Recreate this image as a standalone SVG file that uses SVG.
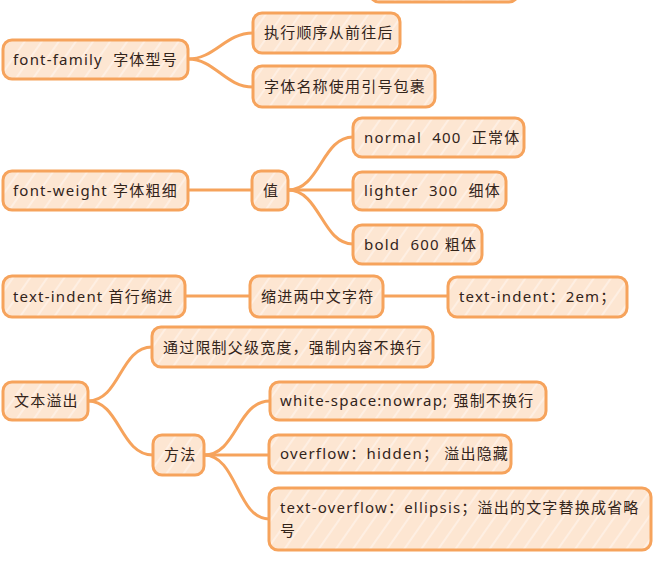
<svg xmlns="http://www.w3.org/2000/svg" width="662" height="563" viewBox="0 0 662 563" xml:space="preserve">
<defs>
<pattern id="hatch" patternUnits="userSpaceOnUse" width="14" height="14" patternTransform="rotate(35)">
<rect width="14" height="14" fill="#FDE6D2"/>
<line x1="2" y1="0" x2="2" y2="14" stroke="#FFFFFF" stroke-width="1" stroke-opacity="0.75"/>
</pattern>
<style>
.node rect{fill:url(#hatch);stroke:#F6A35C;stroke-width:3}
.node text{font-family:"Noto Sans","Noto Sans CJK SC",sans-serif;font-size:15px;fill:#33241A;letter-spacing:1.2px;white-space:pre}
#connectors path{fill:none;stroke:#F6A35C;stroke-width:3;stroke-linecap:round}
</style>
</defs>
<rect width="662" height="563" fill="#FFFFFF"/>
<g id="connectors">
<path d="M188,59 C215,59 225,33 253,33"/>
<path d="M188,59 C215,59 225,87 253,87"/>
<path d="M188,190 L252,190"/>
<path d="M288,190 C320,190 322,137 353,137"/>
<path d="M288,190 L353,190"/>
<path d="M288,190 C320,190 322,244 353,244"/>
<path d="M185,296 L250,296"/>
<path d="M383,296 L448,296"/>
<path d="M88,401 C120,401 120,347 152,347"/>
<path d="M88,401 C120,401 120,455 153,455"/>
<path d="M204,455 C237,455 237,401 270,401"/>
<path d="M204,455 L269,455"/>
<path d="M204,455 C237,455 237,519 269,519"/>
</g>
<g id="n0" class="node"><rect x="370" y="-38" width="148" height="40" rx="9"/></g>
<g id="n1" class="node"><rect x="3" y="40" width="185" height="39" rx="9"/><text x="13" y="65">font-family  字体型号</text></g>
<g id="n2" class="node"><rect x="253" y="13" width="147" height="40" rx="9"/><text x="264" y="38">执行顺序从前往后</text></g>
<g id="n3" class="node"><rect x="253" y="66" width="182" height="41" rx="9"/><text x="264" y="92">字体名称使用引号包裹</text></g>
<g id="n4" class="node"><rect x="3" y="171" width="185" height="39" rx="9"/><text x="13" y="196">font-weight 字体粗细</text></g>
<g id="n5" class="node"><rect x="252" y="171" width="36" height="39" rx="9"/><text x="263" y="196">值</text></g>
<g id="n6" class="node"><rect x="353" y="118" width="171" height="39" rx="9"/><text x="364" y="143">normal  400  正常体</text></g>
<g id="n7" class="node"><rect x="353" y="172" width="153" height="38" rx="9"/><text x="364" y="196">lighter  300  细体</text></g>
<g id="n8" class="node"><rect x="353" y="225" width="129" height="39" rx="9"/><text x="364" y="250">bold  600 粗体</text></g>
<g id="n9" class="node"><rect x="3" y="276" width="182" height="41" rx="9"/><text x="13" y="302">text-indent 首行缩进</text></g>
<g id="n10" class="node"><rect x="250" y="276" width="133" height="41" rx="9"/><text x="261" y="302">缩进两中文字符</text></g>
<g id="n11" class="node"><rect x="448" y="277" width="179" height="40" rx="9"/><text x="459" y="302">text-indent：2em；</text></g>
<g id="n12" class="node"><rect x="152" y="327" width="281" height="40" rx="9"/><text x="163" y="353">通过限制父级宽度，强制内容不换行</text></g>
<g id="n13" class="node"><rect x="3" y="382" width="85" height="38" rx="9"/><text x="14" y="406">文本溢出</text></g>
<g id="n14" class="node"><rect x="270" y="382" width="276" height="38" rx="9"/><text x="280" y="406">white-space:nowrap; 强制不换行</text></g>
<g id="n15" class="node"><rect x="153" y="435" width="51" height="40" rx="9"/><text x="164" y="460">方法</text></g>
<g id="n16" class="node"><rect x="269" y="435" width="242" height="38" rx="9"/><text x="280" y="459">overflow：hidden； 溢出隐藏</text></g>
<g id="n17" class="node"><rect x="269" y="488" width="382" height="62" rx="9"/><text x="280" y="513">text-overflow：ellipsis；溢出的文字替换成省略</text><text x="280" y="536">号</text></g>
</svg>
